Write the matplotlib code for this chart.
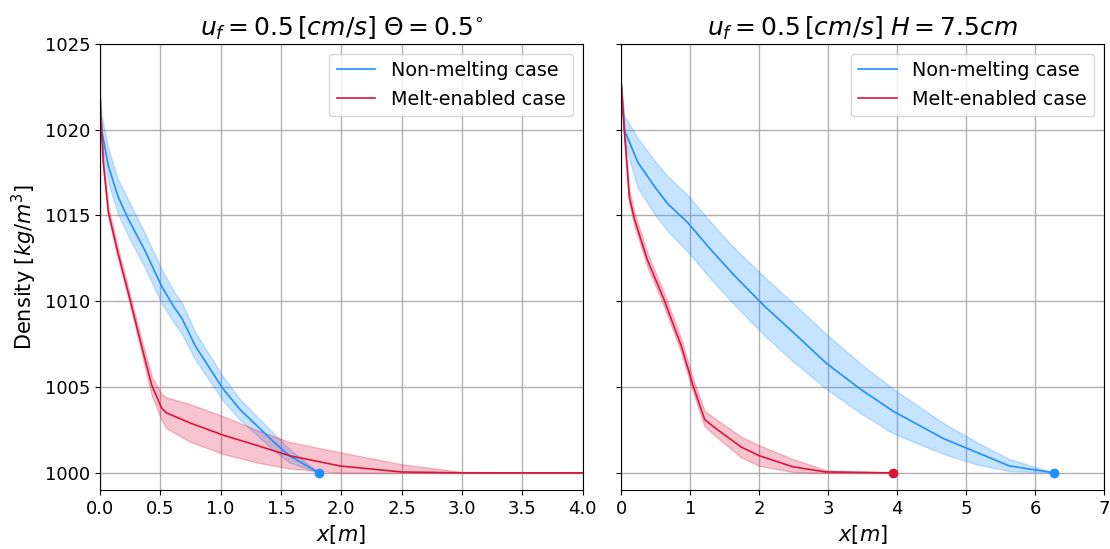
import numpy as np
import matplotlib
matplotlib.use('Agg')
import matplotlib.pyplot as plt

# Panel 1: slope 0.5 deg
x_nm_1 = [0.0, 0.014, 0.07, 0.15, 0.235, 0.37, 0.51, 0.61, 0.68, 0.79, 1.02, 1.16, 1.30, 1.44, 1.57, 1.815]
rho_nm_1 = [1022.2, 1020.0, 1017.9, 1016.1, 1014.8, 1013.0, 1010.9, 1009.7, 1009.0, 1007.4, 1004.9, 1003.7, 1002.75, 1001.8, 1001.0, 1000.0]
lo_nm_1 = [1022.2, 1019.3, 1016.9, 1015.1, 1013.8, 1012.0, 1009.9, 1008.8, 1008.1, 1006.6, 1004.2, 1003.1, 1002.2, 1001.3, 1000.6, 1000.0]
hi_nm_1 = [1022.2, 1020.8, 1018.9, 1017.1, 1015.9, 1014.0, 1011.9, 1010.6, 1009.9, 1008.2, 1005.6, 1004.3, 1003.3, 1002.3, 1001.4, 1000.0]

x_me_1 = [0.0, 0.028, 0.07, 0.15, 0.235, 0.345, 0.43, 0.51, 0.55, 0.75, 1.02, 1.30, 1.57, 1.99, 2.50, 3.0, 4.0]
rho_me_1 = [1021.8, 1018.1, 1015.2, 1012.8, 1010.5, 1007.4, 1005.1, 1003.8, 1003.5, 1002.9, 1002.2, 1001.6, 1001.0, 1000.4, 1000.05, 1000.0, 1000.0]
lo_me_1 = [1021.8, 1017.8, 1014.9, 1012.5, 1010.2, 1007.0, 1004.5, 1003.1, 1002.6, 1001.8, 1001.1, 1000.6, 1000.25, 1000.0, 1000.0, 1000.0, 1000.0]
hi_me_1 = [1021.8, 1018.4, 1015.5, 1013.1, 1010.8, 1007.8, 1005.6, 1004.6, 1004.4, 1004.0, 1003.3, 1002.5, 1001.8, 1001.2, 1000.5, 1000.05, 1000.0]

# Panel 2: H = 7.5 cm
x_nm_2 = [0.0, 0.044, 0.24, 0.48, 0.67, 0.96, 1.30, 1.64, 2.08, 2.49, 2.97, 3.46, 3.94, 4.67, 5.15, 5.63, 6.28]
rho_nm_2 = [1022.6, 1020.0, 1018.1, 1016.7, 1015.7, 1014.6, 1013.0, 1011.5, 1009.7, 1008.2, 1006.4, 1004.9, 1003.6, 1002.0, 1001.2, 1000.4, 1000.0]
lo_nm_2 = [1022.6, 1019.3, 1016.6, 1015.1, 1014.1, 1012.9, 1011.3, 1009.8, 1008.0, 1006.5, 1004.9, 1003.5, 1002.3, 1001.1, 1000.5, 1000.1, 1000.0]
hi_nm_2 = [1022.6, 1020.8, 1019.5, 1018.2, 1017.3, 1016.2, 1014.6, 1013.1, 1011.4, 1009.9, 1008.1, 1006.4, 1004.9, 1002.9, 1001.8, 1000.8, 1000.0]

x_me_2 = [0.0, 0.044, 0.116, 0.19, 0.38, 0.62, 0.87, 1.04, 1.21, 1.35, 1.74, 2.0, 2.49, 2.97, 3.94]
rho_me_2 = [1022.6, 1020.0, 1016.1, 1014.8, 1012.4, 1010.1, 1007.4, 1005.1, 1003.1, 1002.65, 1001.5, 1001.0, 1000.35, 1000.05, 1000.0]
lo_me_2 = [1022.6, 1019.7, 1015.7, 1014.4, 1012.0, 1009.7, 1007.0, 1004.7, 1002.7, 1002.2, 1000.9, 1000.4, 1000.05, 1000.0, 1000.0]
hi_me_2 = [1022.6, 1020.3, 1016.5, 1015.2, 1012.8, 1010.5, 1007.8, 1005.5, 1003.6, 1003.2, 1002.1, 1001.6, 1000.8, 1000.15, 1000.0]

titles = [r'$u_f = 0.5\,[cm/s]\;\Theta = 0.5^{\circ}$', r'$u_f = 0.5\,[cm/s]\;H = 7.5cm$']
xlims = [(0, 4.0), (0, 7)]
xticks = [np.arange(0, 4.01, 0.5), np.arange(0, 8, 1)]

panels = [
    (x_nm_1, rho_nm_1, lo_nm_1, hi_nm_1, x_me_1, rho_me_1, lo_me_1, hi_me_1),
    (x_nm_2, rho_nm_2, lo_nm_2, hi_nm_2, x_me_2, rho_me_2, lo_me_2, hi_me_2),
]

blue = 'dodgerblue'
red = 'crimson'

fig, axes = plt.subplots(1, 2, figsize=(11.1, 5.49), dpi=100, sharey=True)
fig.subplots_adjust(left=0.090, right=0.9946, top=0.92, bottom=0.1075, wspace=0.08)

for i, ax in enumerate(axes):
    xn, yn, ln, hn, xm, ym, lm, hm = panels[i]
    ax.plot(xn, yn, color=blue, lw=1.2, label='Non-melting case')
    ax.fill_between(xn, ln, hn, color=blue, alpha=0.25, lw=1)
    ax.plot(xm, ym, color=red, lw=1.2, label='Melt-enabled case')
    ax.fill_between(xm, lm, hm, color=red, alpha=0.25, lw=1)
    # end point of each run
    if xn[-1] <= xlims[i][1]:
        ax.plot(xn[-1], yn[-1], 'o', color=blue, ms=6, clip_on=False, zorder=5)
    if xm[-1] < xlims[i][1]:
        ax.plot(xm[-1], ym[-1], 'o', color=red, ms=6, clip_on=False, zorder=5)
    ax.set_xlim(*xlims[i])
    ax.set_xticks(xticks[i])
    ax.set_ylim(999, 1025)
    ax.set_yticks([1000, 1005, 1010, 1015, 1020, 1025])
    ax.grid(True, color='#b0b0b0', lw=1)
    ax.set_axisbelow(True)
    ax.set_title(titles[i], fontsize=18)
    ax.set_xlabel('$x[m]$', fontsize=15)
    ax.tick_params(labelsize=13)
    ax.legend(fontsize=13.8, loc='upper right')

axes[0].set_ylabel('Density $[kg/m^3]$', fontsize=15)

plt.savefig('out.png', dpi=100)
plt.close()
